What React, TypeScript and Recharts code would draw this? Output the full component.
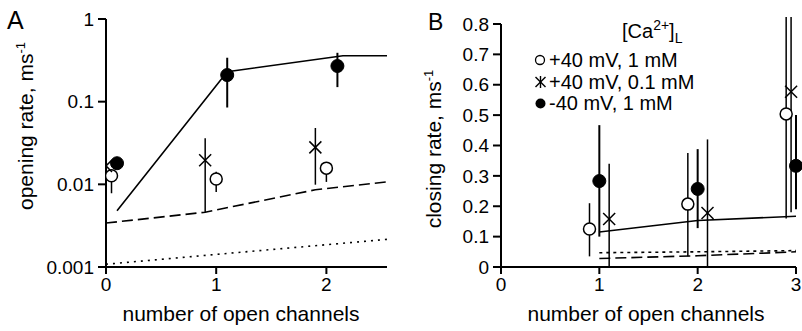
import React from 'react';
import { ComposedChart, Line, Scatter, XAxis, YAxis, ErrorBar, ReferenceLine } from 'recharts';

const FONT = '"Liberation Sans", Arial, Helvetica, sans-serif';

// ---------- Panel A (opening rate, log scale) ----------
const aXTicks = [0, 1, 2];
const aYTicks = [0.001, 0.01, 0.1, 1];
const aOpen = [
  { x: 0.05, y: 0.0127, lo: 0.0078, hi: 0.0135 },
  { x: 1.0, y: 0.0116, lo: 0.0081, hi: 0.0142 },
  { x: 2.0, y: 0.0157, lo: 0.0107, hi: 0.0186 },
];
const aCross = [
  { x: 0.0, y: 0.0167, lo: 0.0167, hi: 0.0167 },
  { x: 0.9, y: 0.0196, lo: 0.0046, hi: 0.036 },
  { x: 1.9, y: 0.028, lo: 0.0099, hi: 0.048 },
];
const aFilled = [
  { x: 0.1, y: 0.018, lo: 0.018, hi: 0.018 },
  { x: 1.1, y: 0.21, lo: 0.085, hi: 0.34 },
  { x: 2.1, y: 0.27, lo: 0.15, hi: 0.39 },
];
const aSolid = [
  { x: 0.1, y: 0.0048 },
  { x: 1.1, y: 0.23 },
  { x: 2.15, y: 0.36 },
  { x: 2.55, y: 0.36 },
];
const aDashed = [
  { x: 0, y: 0.0034 },
  { x: 0.9, y: 0.0046 },
  { x: 1.9, y: 0.0086 },
  { x: 2.55, y: 0.0107 },
];
const aDotted = [
  { x: 0, y: 0.00108 },
  { x: 1, y: 0.00142 },
  { x: 2, y: 0.00186 },
  { x: 2.55, y: 0.00216 },
];

// ---------- Panel B (closing rate, linear) ----------
const bXTicks = [0, 1, 2, 3];
const bYTicks = [0, 0.1, 0.2, 0.3, 0.4, 0.5, 0.6, 0.7, 0.8];
const bOpen = [
  { x: 0.9, y: 0.125, lo: 0.035, hi: 0.21 },
  { x: 1.9, y: 0.207, lo: 0.035, hi: 0.375 },
  { x: 2.9, y: 0.504, lo: 0.16, hi: 0.823 },
];
const bCross = [
  { x: 1.1, y: 0.158, lo: 0, hi: 0.34 },
  { x: 2.1, y: 0.178, lo: 0, hi: 0.42 },
  { x: 2.95, y: 0.577, lo: 0.18, hi: 0.823 },
];
const bFilled = [
  { x: 1.0, y: 0.283, lo: 0.1, hi: 0.467 },
  { x: 2.0, y: 0.257, lo: 0.128, hi: 0.388 },
  { x: 3.0, y: 0.333, lo: 0.19, hi: 0.5 },
];
const bSolid = [
  { x: 1, y: 0.115 },
  { x: 2, y: 0.153 },
  { x: 3, y: 0.167 },
];
const bDashed = [
  { x: 1, y: 0.028 },
  { x: 2, y: 0.037 },
  { x: 3, y: 0.05 },
];
const bDotted = [
  { x: 1, y: 0.047 },
  { x: 2, y: 0.05 },
  { x: 3, y: 0.054 },
];

const legendItems = ['+40 mV, 1 mM', '+40 mV, 0.1 mM', '-40 mV, 1 mM'];

type P = { x: number; y: number; lo: number; hi: number };
const withErr = (arr: P[]) => arr.map((d) => ({ ...d, err: [d.y - d.lo, d.hi - d.y] }));

const OpenShape = (p: any) => (
  <circle cx={p.cx} cy={p.cy} r={6} fill="#fff" stroke="#000" strokeWidth={1.5} />
);
const FilledShape = (p: any) => <circle cx={p.cx} cy={p.cy} r={6.5} fill="#000" stroke="#000" />;
const CrossShape = (p: any) => (
  <g stroke="#000" strokeWidth={1.5}>
    <line x1={p.cx - 6} y1={p.cy - 6} x2={p.cx + 6} y2={p.cy + 6} />
    <line x1={p.cx - 6} y1={p.cy + 6} x2={p.cx + 6} y2={p.cy - 6} />
  </g>
);

const tickStyle = { fill: '#000', fontSize: 19, fontFamily: FONT };
const axisLine = { stroke: '#000', strokeWidth: 2 };
const tickLine = { stroke: '#000', strokeWidth: 2 };

export default function App() {
  return (
    <div style={{ position: 'absolute', left: 0, top: 0, width: 802, height: 331, background: '#fff' }}>
      <div style={{ position: 'absolute', left: 0, top: 0 }}>
        <ComposedChart width={400} height={331} margin={{ top: 19, right: 13, bottom: 34, left: 0 }}>
          <XAxis
            type="number"
            dataKey="x"
            domain={[0, 2.55]}
            ticks={aXTicks}
            allowDataOverflow
            height={30}
            tick={tickStyle}
            tickSize={7}
            tickMargin={4}
            axisLine={axisLine}
            tickLine={tickLine}
          />
          <YAxis
            type="number"
            dataKey="y"
            scale="log"
            domain={[0.001, 1]}
            ticks={aYTicks}
            allowDataOverflow
            width={106}
            tick={tickStyle}
            tickSize={8}
            tickMargin={4}
            axisLine={axisLine}
            tickLine={tickLine}
          />
          <Line data={aDotted} dataKey="y" type="linear" stroke="#000" strokeWidth={1.6} strokeDasharray="2 5" dot={false} activeDot={false} isAnimationActive={false} />
          <Line data={aDashed} dataKey="y" type="linear" stroke="#000" strokeWidth={1.6} strokeDasharray="11 5" dot={false} activeDot={false} isAnimationActive={false} />
          <Line data={aSolid} dataKey="y" type="linear" stroke="#000" strokeWidth={1.6} dot={false} activeDot={false} isAnimationActive={false} />
          <Scatter data={withErr(aOpen)} dataKey="y" shape={OpenShape} isAnimationActive={false}>
            <ErrorBar dataKey="err" direction="y" width={0} stroke="#000" strokeWidth={1.5} isAnimationActive={false} />
          </Scatter>
          <Scatter data={withErr(aCross)} dataKey="y" shape={CrossShape} isAnimationActive={false}>
            <ErrorBar dataKey="err" direction="y" width={0} stroke="#000" strokeWidth={1.5} isAnimationActive={false} />
          </Scatter>
          <Scatter data={withErr(aFilled)} dataKey="y" shape={FilledShape} isAnimationActive={false}>
            <ErrorBar dataKey="err" direction="y" width={0} stroke="#000" strokeWidth={2} isAnimationActive={false} />
          </Scatter>
        </ComposedChart>
      </div>
      <div style={{ position: 'absolute', left: 400, top: 0 }}>
        <ComposedChart width={402} height={331} margin={{ top: 17, right: 6, bottom: 34, left: 0 }}>
          <XAxis
            type="number"
            dataKey="x"
            domain={[0, 3]}
            ticks={bXTicks}
            height={30}
            tick={tickStyle}
            tickSize={7}
            tickMargin={4}
            axisLine={axisLine}
            tickLine={tickLine}
          />
          <YAxis
            type="number"
            dataKey="y"
            domain={[0, 0.823]}
            ticks={bYTicks}
            allowDataOverflow
            width={101}
            tick={tickStyle}
            tickSize={8}
            tickMargin={4}
            axisLine={false}
            tickLine={tickLine}
          />
          <ReferenceLine segment={[{ x: 0, y: 0 }, { x: 0, y: 0.8 }]} stroke="#000" strokeWidth={2} />
          <Line data={bDotted} dataKey="y" type="linear" stroke="#000" strokeWidth={1.6} strokeDasharray="3 4" dot={false} activeDot={false} isAnimationActive={false} />
          <Line data={bDashed} dataKey="y" type="linear" stroke="#000" strokeWidth={1.6} strokeDasharray="11 5" dot={false} activeDot={false} isAnimationActive={false} />
          <Line data={bSolid} dataKey="y" type="linear" stroke="#000" strokeWidth={1.6} dot={false} activeDot={false} isAnimationActive={false} />
          <Scatter data={withErr(bOpen)} dataKey="y" shape={OpenShape} isAnimationActive={false}>
            <ErrorBar dataKey="err" direction="y" width={0} stroke="#000" strokeWidth={1.5} isAnimationActive={false} />
          </Scatter>
          <Scatter data={withErr(bCross)} dataKey="y" shape={CrossShape} isAnimationActive={false}>
            <ErrorBar dataKey="err" direction="y" width={0} stroke="#000" strokeWidth={1.5} isAnimationActive={false} />
          </Scatter>
          <Scatter data={withErr(bFilled)} dataKey="y" shape={FilledShape} isAnimationActive={false}>
            <ErrorBar dataKey="err" direction="y" width={0} stroke="#000" strokeWidth={2} isAnimationActive={false} />
          </Scatter>
        </ComposedChart>
      </div>
      <svg
        width={802}
        height={331}
        style={{ position: 'absolute', left: 0, top: 0, pointerEvents: 'none' }}
        fontFamily={FONT}
        fill="#000"
      >
        <text x={7} y={29} fontSize={25}>A</text>
        <text x={428} y={30} fontSize={23}>B</text>
        <text x={241} y={321} fontSize={21} textAnchor="middle">number of open channels</text>
        <text x={646} y={321} fontSize={21} textAnchor="middle">number of open channels</text>
        <text x={33} y={126} fontSize={21} textAnchor="middle" transform="rotate(-90 33 126)">
          opening rate, ms<tspan dy={-8} fontSize={13}>-1</tspan>
        </text>
        <text x={441} y={149} fontSize={21} textAnchor="middle" transform="rotate(-90 441 149)">
          closing rate, ms<tspan dy={-8} fontSize={13}>-1</tspan>
        </text>
        <text x={622} y={38} fontSize={20}>
          [Ca<tspan dy={-8} fontSize={14}>2+</tspan>
          <tspan dy={8}>]</tspan>
          <tspan dy={5} fontSize={14}>L</tspan>
        </text>
        {legendItems.map((t, i) => (
          <text key={t} x={549} y={67 + i * 21.5} fontSize={20}>{t}</text>
        ))}
        <circle cx={540} cy={60} r={4.5} fill="#fff" stroke="#000" strokeWidth={1.3} />
        <g stroke="#000" strokeWidth={1.4}>
          <line x1={535.5} y1={77} x2={545.5} y2={87} />
          <line x1={535.5} y1={87} x2={545.5} y2={77} />
          <line x1={540.5} y1={76} x2={540.5} y2={88} />
        </g>
        <circle cx={540.5} cy={103.5} r={5} fill="#000" />
      </svg>
    </div>
  );
}
